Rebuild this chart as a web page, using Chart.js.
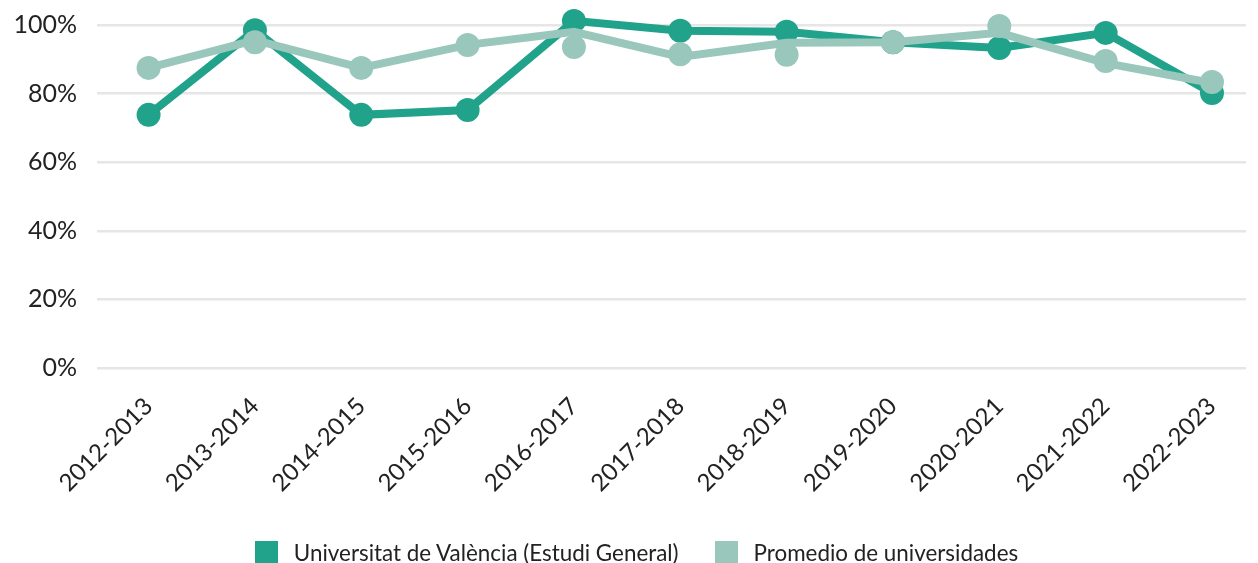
<!DOCTYPE html>
<html>
<head>
<meta charset="utf-8">
<script src="https://cdn.jsdelivr.net/npm/chart.js@4.4.1/dist/chart.umd.min.js"></script>
<style>
  html, body { margin: 0; padding: 0; background: #fff; }
  #wrap { position: relative; width: 1258px; height: 563px; }
  #legend {
    position: absolute; left: 15px; right: 0; top: 539px;
    display: flex; justify-content: center; gap: 36px;
    font-family: Lato, sans-serif; font-size: 22.4px; color: #222;
  }
  #legend .item { display: flex; align-items: center; }
  #legend .box { width: 23px; height: 23px; margin-right: 16px; }
</style>
</head>
<body>
<div id="wrap">
  <canvas id="chart" width="1258" height="563"></canvas>
  <div id="legend"></div>
</div>
<script>
const cursos = ['2012-2013', '2013-2014', '2014-2015', '2015-2016', '2016-2017', '2017-2018',
                '2018-2019', '2019-2020', '2020-2021', '2021-2022', '2022-2023'];

// Universitat de València (Estudi General)
const valencia = [73.8, 98.5, 73.8, 75.2, 101.2, 98.3, 98.0, 95.0, 93.3, 97.7, 80.2];

// Promedio de universidades: the line and its markers don't sit at the same height in the original
const promedioLinea = [87.5, 95.6, 87.5, 94.2, 98.0, 90.7, 94.8, 95.0, 97.7, 88.9, 83.1];
const promedioPuntos = [87.5, 95.0, 87.5, 94.2, 93.6, 91.5, 91.3, 95.0, 99.7, 89.5, 83.4];

const yTicks = [0, 20, 40, 60, 80, 100];

const colorUV = '#21a28a';
const colorProm = '#9ac7bc';

const toXY = arr => arr.map((v, i) => ({ x: i, y: v }));

const chart = new Chart(document.getElementById('chart'), {
    type: 'line',
    data: {
        datasets: [
            {
                label: 'Promedio de universidades',
                data: toXY(promedioPuntos),
                showLine: false,
                pointRadius: 12,
                pointBorderWidth: 0,
                pointBackgroundColor: colorProm,
                borderColor: colorProm,
                clip: false
            },
            {
                label: 'Promedio de universidades (línea)',
                data: toXY(promedioLinea),
                borderColor: colorProm,
                borderWidth: 8,
                pointRadius: 0,
                tension: 0,
                clip: false
            },
            {
                label: 'Universitat de València (Estudi General)',
                data: toXY(valencia),
                borderColor: colorUV,
                borderWidth: 8,
                pointRadius: 12,
                pointBorderWidth: 0,
                pointBackgroundColor: colorUV,
                tension: 0,
                clip: false
            }
        ]
    },
    options: {
        responsive: false,
        animation: false,
        layout: { padding: { top: 25, right: 0, left: 0, bottom: 0 } },
        plugins: {
            legend: { display: false },
            tooltip: { enabled: false }
        },
        scales: {
            x: {
                type: 'linear',
                min: -0.485,
                max: 10.32,
                grid: {
                    display: true, drawOnChartArea: false,
                    color: 'rgba(0,0,0,0)', tickColor: 'rgba(0,0,0,0)', tickLength: 24
                },
                border: { display: false },
                afterBuildTicks: (scale) => {
                    scale.ticks = cursos.map((_, i) => ({ value: i }));
                },
                afterFit: (scale) => {
                    scale.height = 195;
                },
                ticks: {
                    autoSkip: false,
                    minRotation: 45,
                    maxRotation: 45,
                    padding: 0,
                    color: '#222',
                    font: { family: 'Lato', size: 24 },
                    callback: (v) => cursos[v]
                }
            },
            y: {
                min: 0,
                max: 100,
                afterBuildTicks: (scale) => {
                    scale.ticks = yTicks.map(v => ({ value: v }));
                },
                afterFit: (scale) => { scale.width = 97; },
                grid: { color: '#e6e6e6', lineWidth: 2.5, drawTicks: true, tickLength: 20, tickColor: 'rgba(0,0,0,0)' },
                border: { display: false },
                ticks: {
                    padding: 0,
                    color: '#222',
                    font: { family: 'Lato', size: 25 },
                    callback: (v) => v + '%'
                }
            }
        }
    }
});

// legend with the two series only
const legendItems = [
    { label: 'Universitat de València (Estudi General)', color: colorUV },
    { label: 'Promedio de universidades', color: colorProm }
];
const legend = document.getElementById('legend');
legendItems.forEach(it => {
    const el = document.createElement('div');
    el.className = 'item';
    el.innerHTML = '<span class="box" style="background:' + it.color + '"></span><span>' + it.label + '</span>';
    legend.appendChild(el);
});
</script>
</body>
</html>
